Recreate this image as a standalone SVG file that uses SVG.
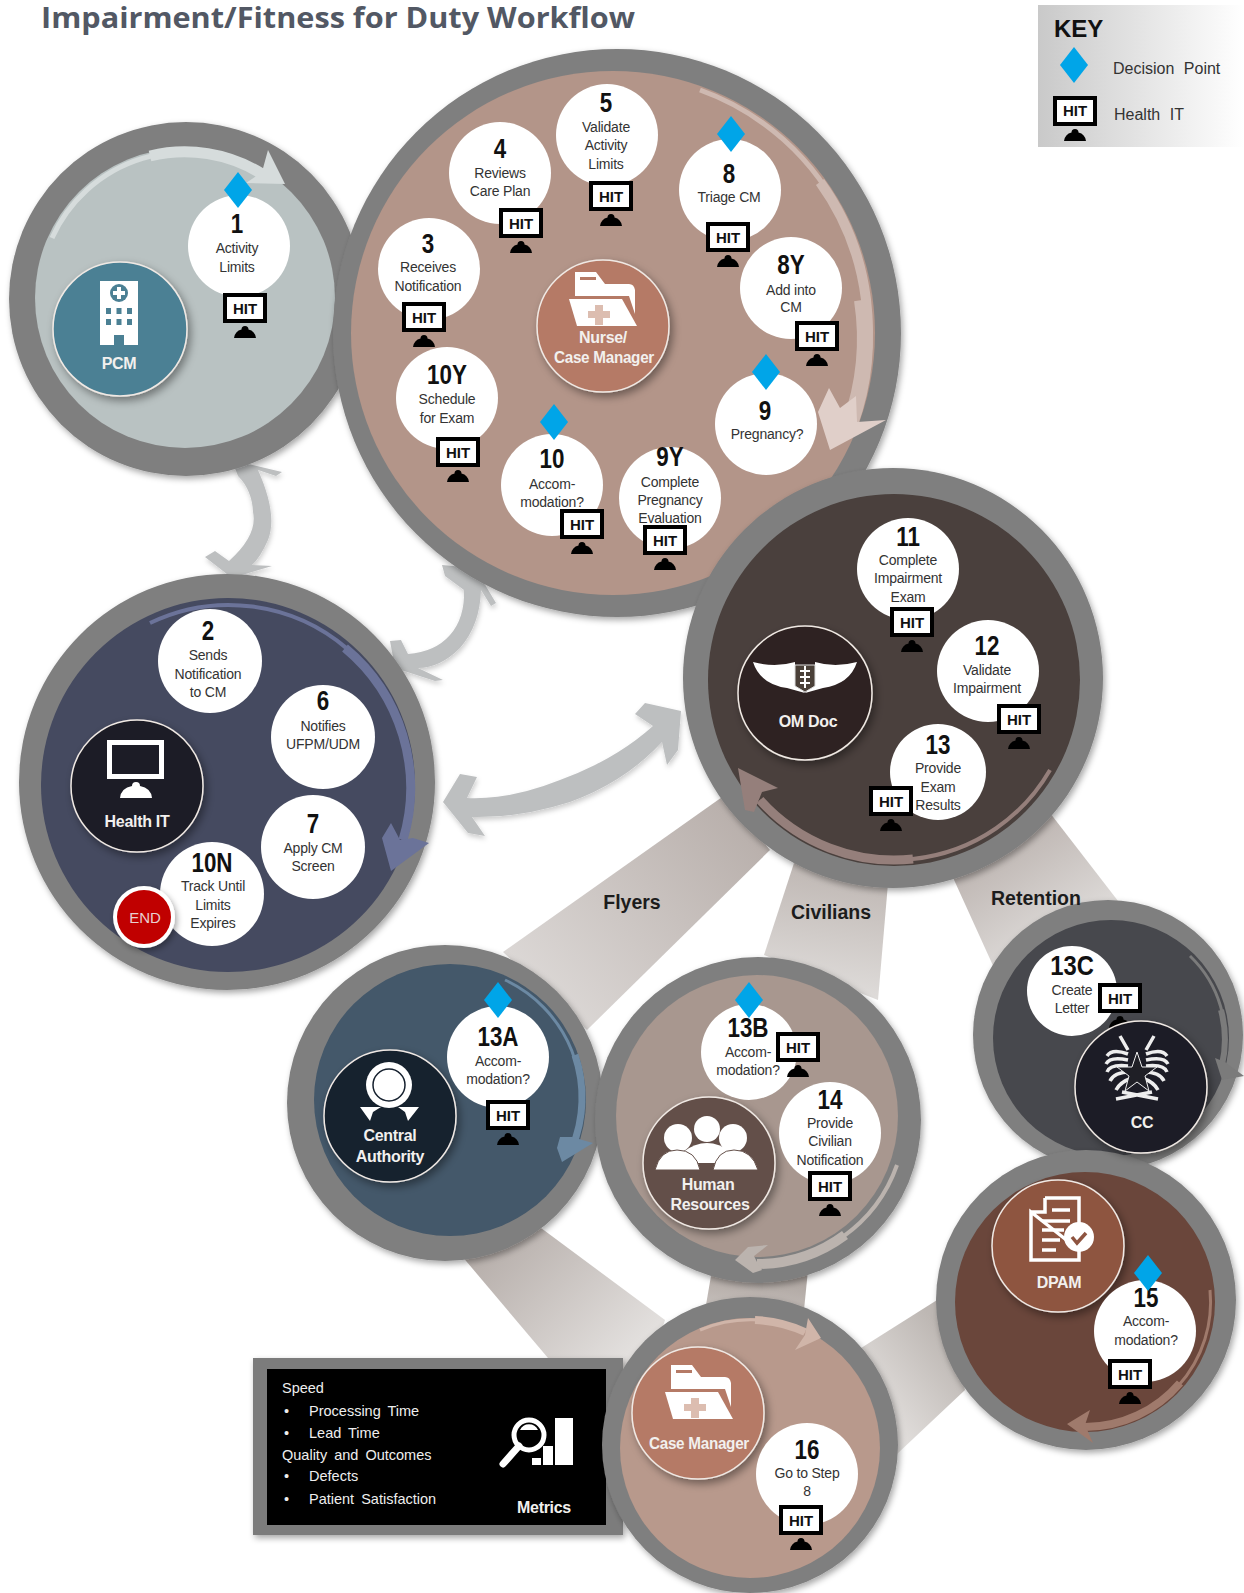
<svg xmlns="http://www.w3.org/2000/svg" width="1244" height="1593" viewBox="0 0 1244 1593">
<style>
text{font-family:"Liberation Sans",Arial,sans-serif;text-anchor:middle}
.title{font-family:"Open Sans","Liberation Sans",sans-serif;font-weight:700;font-size:29px;fill:#525864;text-anchor:start}
.num{font-size:28px;fill:#111;font-weight:700}
.t{font-size:14px;fill:#333;letter-spacing:-.2px}
.hit{font-size:15px;font-weight:700;fill:#111}
.role{font-size:16px;font-weight:700;fill:#f2f0ee;letter-spacing:-.3px}
.band{font-size:19.5px;font-weight:700;fill:#1c1c1c}
.m{font-size:14.5px;fill:#eee;text-anchor:start;word-spacing:3px}
.k{font-size:16px;fill:#333;text-anchor:start;word-spacing:5px}
.ring{fill:#7f7f7f}
.step{fill:#fff}
.rc{stroke:#f0e9e4;stroke-width:1.5;filter:url(#sh)}
.dia{fill:#00a5e8}
.bi{fill:#bdbfc0;filter:url(#soft)}
.fa{fill:none}
</style>
<defs>
<filter id="sh" x="-20%" y="-20%" width="150%" height="150%"><feDropShadow dx="3" dy="4" stdDeviation="4" flood-color="#000" flood-opacity=".4"/></filter>
<filter id="sh2" x="-20%" y="-20%" width="150%" height="150%"><feDropShadow dx="2" dy="3" stdDeviation="3" flood-color="#000" flood-opacity=".35"/></filter>
<filter id="soft" x="-20%" y="-20%" width="150%" height="150%"><feGaussianBlur stdDeviation=".7"/><feDropShadow dx="1" dy="3" stdDeviation="2.500" flood-color="#000" flood-opacity=".2"/></filter>
<linearGradient id="kg" x1="0" x2="1" y1="0" y2="0"><stop offset="0" stop-color="#c9c9c9"/><stop offset="1" stop-color="#fff"/></linearGradient>
<linearGradient id="g1" gradientUnits="userSpaceOnUse" x1="740" y1="820" x2="540" y2="1000"><stop offset="0" stop-color="#b9b0ac"/><stop offset="1" stop-color="#dcd8d6"/></linearGradient>
<linearGradient id="g2" gradientUnits="userSpaceOnUse" x1="840" y1="860" x2="820" y2="990"><stop offset="0" stop-color="#bdb5b1"/><stop offset="1" stop-color="#dedbd9"/></linearGradient>
<linearGradient id="g3" gradientUnits="userSpaceOnUse" x1="990" y1="830" x2="1060" y2="940"><stop offset="0" stop-color="#b9b0ac"/><stop offset="1" stop-color="#dedbd9"/></linearGradient>
<linearGradient id="g4" gradientUnits="userSpaceOnUse" x1="500" y1="1240" x2="620" y2="1360"><stop offset="0" stop-color="#b8b0ac"/><stop offset="1" stop-color="#e2dfdd"/></linearGradient>
<linearGradient id="g5" gradientUnits="userSpaceOnUse" x1="760" y1="1270" x2="750" y2="1340"><stop offset="0" stop-color="#aca39e"/><stop offset="1" stop-color="#d6d1ce"/></linearGradient>
<linearGradient id="g6" gradientUnits="userSpaceOnUse" x1="950" y1="1340" x2="860" y2="1410"><stop offset="0" stop-color="#bdb7b3"/><stop offset="1" stop-color="#e6e3e1"/></linearGradient>
<g id="mon"><rect x="-20" y="-13" width="40" height="26" fill="#fff" stroke="#000" stroke-width="4"/><path d="M-11 30Q-10 23-3.500 21.500A3.500 3.500 0 1 1 3.500 21.500Q10 23 11 30Z" fill="#000"/></g>
<g id="folder"><path d="M6 0H27L36 12H60Q65 12 66 18V42L60 24H6Z" fill="#fff"/><rect x="11" y="5" width="16" height="3" fill="#b57a66"/><path d="M0 27H53L68 54H8Z" fill="#fff"/><path d="M26 33h8v6h7v7h-7v7h-8v-7h-7v-7h7z" fill="#dcbdb0"/></g>
<path id="d" d="M0-18L14 0 0 18-14 0Z"/>
</defs>
<rect width="1244" height="1593" fill="#fff"/>
<text class="title" x="41" y="28" textLength="594" lengthAdjust="spacingAndGlyphs">Impairment/Fitness for Duty Workflow</text>

<g id="key">
<rect x="1038" y="5" width="206" height="142" fill="url(#kg)"/>
<text x="1054" y="37" style="text-anchor:start;font-weight:700;font-size:24px;fill:#111">KEY</text>
<use href="#d" x="1074" y="65" class="dia"/>
<text class="k" x="1113" y="74">Decision Point</text>
<use href="#mon" x="1075" y="111"/>
<text class="hit" x="1075" y="116">HIT</text>
<text class="k" x="1114" y="120">Health IT</text>
</g>

<g id="connectors">
<polygon points="725,795 770,850 587,1030 503,952" fill="url(#g1)"/>
<polygon points="795,860 890,860 878,1000 764,955" fill="url(#g2)"/>
<polygon points="945,860 1040,800 1125,910 995,970" fill="url(#g3)"/>
<polygon points="461,1255 541,1228 665,1320 640,1400 548,1358" fill="url(#g4)"/>
<polygon points="712,1270 808,1270 800,1350 700,1340" fill="url(#g5)"/>
<polygon points="850,1355 945,1295 965,1390 880,1470" fill="url(#g6)"/>
<g id="bidirectional">
<path class="bi" d="M205 557L215 551 229 561Q258 535 253 512Q252 490 238 476L232 460 282 472 276 476 258 470Q278 515 268 540Q260 558 252 565L272 566 232 578Z"/>
<path class="bi" d="M390 641L401 640 408 654Q435 652 450 635Q465 618 464 590L445 576 442 565 475 568 496 603 491 606 481 590Q480 625 460 648Q440 668 418 668L443 680 435 681 395 668Z"/>
<path class="bi" d="M443 802L460 774 477 777 467 798Q510 800 560 780Q615 760 653 726L635 714 645 703 681 711 678 750 667 765 662 742Q625 782 570 802Q520 818 472 817L485 836 468 833Z"/>
</g>
</g>

<g id="lane-pcm"><circle class="ring" cx="186" cy="299" r="177" filter="url(#sh2)"/><circle cx="185" cy="298" r="150" fill="#b9c2c2"/></g>
<g id="lane-healthit"><circle class="ring" cx="227" cy="782" r="208" filter="url(#sh2)"/><circle cx="228" cy="785" r="187" fill="#454a60"/></g>
<g id="lane-nurse"><circle class="ring" cx="617" cy="333" r="284" filter="url(#sh2)"/><circle cx="613" cy="333" r="262" fill="#b39589"/></g>
<g id="lane-omdoc"><circle class="ring" cx="893" cy="678" r="210" filter="url(#sh2)"/><circle cx="894" cy="680" r="186" fill="#4a403d"/></g>
<g id="lane-central"><circle class="ring" cx="445" cy="1103" r="158" filter="url(#sh2)"/><circle cx="450" cy="1100" r="136" fill="#44586a"/></g>
<g id="lane-hr"><circle class="ring" cx="758" cy="1120" r="163" filter="url(#sh2)"/><circle cx="757" cy="1116" r="141" fill="#a8978f"/></g>
<g id="lane-cc"><circle class="ring" cx="1108" cy="1035" r="135" filter="url(#sh2)"/><circle cx="1111" cy="1038" r="118" fill="#47484d"/></g>
<g id="lane-dpam"><circle class="ring" cx="1086" cy="1300" r="150" filter="url(#sh2)"/><circle cx="1085" cy="1302" r="130" fill="#6a463b"/></g>
<g id="metrics">
<rect x="253" y="1358" width="370" height="177" fill="#7b7b7b" filter="url(#sh2)"/>
<rect x="267" y="1369" width="339" height="156" fill="#000"/>
<text class="m" x="282" y="1393">Speed</text>
<text class="m" x="284" y="1416">•</text><text class="m" x="309" y="1416">Processing Time</text>
<text class="m" x="284" y="1438">•</text><text class="m" x="309" y="1438">Lead Time</text>
<text class="m" x="282" y="1460">Quality and Outcomes</text>
<text class="m" x="284" y="1481">•</text><text class="m" x="309" y="1481">Defects</text>
<text class="m" x="284" y="1504">•</text><text class="m" x="309" y="1504">Patient Satisfaction</text>
<circle cx="529" cy="1435" r="15" fill="none" stroke="#fff" stroke-width="5"/><path d="M519 1446L503 1464" stroke="#fff" stroke-width="7" stroke-linecap="round"/>
<path d="M520 1430a10 10 0 0 1 18 0z" fill="#fff"/>
<path d="M532 1458h9v7h-9zM543 1446h10v19h-10zM555 1418h18v47h-18z" fill="#fff"/>
<text class="role" x="544" y="1513">Metrics</text>
</g>
<g id="lane-cm"><circle class="ring" cx="750" cy="1445" r="148" filter="url(#sh2)"/><circle cx="750" cy="1448" r="130" fill="#b8998c"/></g>

<g id="flow-arrows" class="fa">
<g stroke="#d6dcdc" fill="none"><path stroke-width="5" d="M52 238A146 146 0 0 1 262 174"/><path stroke-width="11" d="M150 156A146 146 0 0 1 262 174"/><polygon fill="#d6dcdc" stroke="none" points="268,150 285,184 246,183 262,172"/></g>
<g stroke="#ceb9b1" fill="none"><path stroke-width="5" d="M700 90A254 254 0 0 1 850 424"/><path stroke-width="10" d="M820 182A254 254 0 0 1 850 424"/><path stroke-width="16" d="M862 300A254 254 0 0 1 850 424"/><polygon fill="#e0cfc9" stroke="none" points="829,388 840,408 856,396 857,422 886,420 830,450 818,412"/></g>
<g stroke="#6b7399" fill="none"><path stroke-width="4" d="M150 623A182 182 0 0 1 403 840"/><path stroke-width="9" d="M345 648A182 182 0 0 1 403 840"/><polygon fill="#6b7399" stroke="none" points="391,823 400,840 413,838 429,843 391,871 382,838"/></g>
<g stroke="#957f7b" fill="none"><path stroke-width="4" d="M1050 770A180 180 0 0 1 760 800"/><path stroke-width="9" d="M913 859A180 180 0 0 1 760 800"/><polygon fill="#957f7b" stroke="none" points="738,768 778,788 762,792 754,812 745,810"/></g>
<g stroke="#6c89a3" fill="none"><path stroke-width="3" d="M505 980A132 132 0 0 1 572 1148"/><path stroke-width="7" d="M575 1055A132 132 0 0 1 572 1148"/><polygon fill="#6c89a3" stroke="none" points="560,1137 572,1137 593,1143 562,1162 557,1148"/></g>
<g stroke="#bbb3ae" fill="none"><path stroke-width="4" d="M897 1165A148 148 0 0 1 757 1264"/><path stroke-width="10" d="M845 1235A148 148 0 0 1 757 1264"/><polygon fill="#bbb3ae" stroke="none" points="735,1260 748,1247 768,1245 754,1256 757,1262 762,1270 753,1273"/></g>
<g stroke="#7b7b7b" fill="none"><path stroke-width="3" d="M1190 956A114 114 0 0 1 1222 1065"/><path stroke-width="6" d="M1221 1010A114 114 0 0 1 1222 1065"/><polygon fill="#7b7b7b" stroke="none" points="1215,1058 1225,1062 1244,1076 1222,1080"/></g>
<g stroke="#9f7a6c" fill="none"><path stroke-width="3" d="M1210 1290A125 125 0 0 1 1085 1427"/><path stroke-width="8" d="M1180 1383A125 125 0 0 1 1085 1427"/><polygon fill="#9f7a6c" stroke="none" points="1067,1424 1090,1410 1085,1425 1093,1443"/></g>
<g stroke="#d0b5a9" fill="none"><path stroke-width="3" d="M700 1330A128 128 0 0 1 805 1332"/><path stroke-width="8" d="M755 1320A128 128 0 0 1 805 1332"/><polygon fill="#d0b5a9" stroke="none" points="821,1338 808,1318 805,1335 795,1350"/></g>
</g>

<g id="role-pcm"><circle class="rc" cx="120" cy="329" r="67" fill="#4b8094"/>
<path fill="#fff" d="M100 281h38v64h-38z"/><circle cx="119" cy="293" r="9" fill="#4b8094"/><path fill="#fff" d="M117 287h4v4h4v4h-4v4h-4v-4h-4v-4h4z"/>
<path fill="#4b8094" d="M106 308h5v6h-5zM116.500 308h5v6h-5zM127 308h5v6h-5zM106 319h5v6h-5zM116.500 319h5v6h-5zM127 319h5v6h-5zM114 335h10v10h-10z"/>
<text class="role" x="119" y="369">PCM</text></g>

<g id="role-nurse"><circle class="rc" cx="603" cy="326" r="66" fill="#b57a66"/><use href="#folder" x="569" y="272"/>
<text class="role" x="603" y="343">Nurse/</text><text class="role" x="604" y="363" textLength="100" lengthAdjust="spacingAndGlyphs">Case Manager</text></g>

<g id="role-healthit"><circle class="rc" cx="137" cy="786" r="66" fill="#1e1e25"/>
<rect x="109.500" y="742.500" width="52" height="34" fill="none" stroke="#fff" stroke-width="5"/>
<path fill="#fff" d="M120 798Q121 788 132 786A4 4 0 1 1 140 786Q151 788 152 798Z"/>
<text class="role" x="137" y="827">Health IT</text></g>

<g id="role-omdoc"><circle class="rc" cx="805" cy="693" r="67" fill="#2f2421"/>
<path fill="#fff" d="M753 662Q775 668 795 662L795 682 805 693 787 688Q760 684 753 662ZM857 662Q835 668 815 662L815 682 805 693 823 688Q850 684 857 662Z"/>
<path fill="#4a4038" stroke="#ddd" d="M795 665h20v21l-10 6-10-6z"/><path stroke="#fff" stroke-width="2" fill="none" d="M805 666v22M800 671h10M800 677h10M800 683h10"/>
<text class="role" x="808" y="727">OM Doc</text></g>

<g id="role-central"><circle class="rc" cx="390" cy="1116" r="66" fill="#15202e"/>
<circle cx="389" cy="1085" r="23" fill="#fff"/><circle cx="389" cy="1085" r="16" fill="#fff" stroke="#15202e" stroke-width="1.500"/>
<path fill="#fff" d="M360 1107H381L373 1112 370 1121ZM398 1107H419L408 1121 405 1112Z"/>
<text class="role" x="390" y="1141">Central</text><text class="role" x="390" y="1162">Authority</text></g>

<g id="role-hr"><circle class="rc" cx="709" cy="1163" r="66" fill="#64504a"/>
<circle cx="707" cy="1129" r="13" fill="#fff"/><path fill="#fff" d="M683 1152Q707 1134 731 1152L722 1163H692Z"/>
<circle cx="678" cy="1138" r="14" fill="#fff"/><path fill="#fff" stroke="#64504a" d="M655 1170Q660 1150 677 1150Q696 1150 700 1170Z"/>
<circle cx="733" cy="1138" r="14" fill="#fff"/><path fill="#fff" stroke="#64504a" d="M713 1170Q717 1150 734 1150Q752 1150 758 1170Z"/>
<text class="role" x="708" y="1190">Human</text><text class="role" x="710" y="1210">Resources</text></g>

<g id="step-13C"><circle class="step" cx="1072" cy="991" r="45"/><text class="num" transform="translate(1072 975) scale(.85 1)">13C</text><text class="t" x="1072" y="995">Create</text><text class="t" x="1072" y="1013">Letter</text><use href="#mon" x="1120" y="998"/><text class="hit" x="1120" y="1004">HIT</text></g>

<g id="role-cc"><circle class="rc" cx="1141" cy="1087" r="66" fill="#1f1f26"/>
<g fill="none" stroke="#eee" stroke-width="3.500"><path d="M1128 1054Q1112 1048 1107 1056M1128 1060Q1110 1056 1106 1064M1128 1066Q1110 1064 1107 1072M1130 1072Q1114 1072 1110 1081M1132 1078Q1120 1082 1116 1090M1146 1054Q1162 1048 1167 1056M1146 1060Q1164 1056 1168 1064M1146 1066Q1164 1064 1167 1072M1144 1072Q1160 1072 1164 1081M1142 1078Q1154 1082 1158 1090M1120 1036L1128 1050M1154 1036L1146 1050M1116 1099L1152 1092M1158 1099L1122 1092"/></g>
<polygon fill="#1f1f26" stroke="#eee" points="1137,1052 1142,1067 1157,1067 1145,1076 1149,1091 1137,1082 1125,1091 1129,1076 1117,1067 1132,1067"/>
<text class="role" x="1142" y="1128">CC</text></g>

<g id="role-dpam"><circle class="rc" cx="1058" cy="1246" r="66" fill="#8e5440"/>
<path fill="none" stroke="#fff" stroke-width="3.500" d="M1045 1198H1079V1224M1079 1250V1260H1031V1212ZM1045 1198V1212H1031"/>
<path stroke="#fff" stroke-width="3.500" d="M1052 1210h18M1042 1221h28M1042 1230h22M1042 1240h18M1042 1250h14"/>
<circle cx="1079" cy="1237" r="15" fill="#fff"/><path fill="none" stroke="#8e5440" stroke-width="3.500" d="M1072 1237l5 6 9-10"/>
<text class="role" x="1059" y="1288">DPAM</text></g>

<g id="role-cm"><circle class="rc" cx="698" cy="1413" r="66" fill="#b57a66"/><use href="#folder" x="665" y="1365"/>
<text class="role" x="699" y="1449" textLength="100" lengthAdjust="spacingAndGlyphs">Case Manager</text></g>

<g id="step-1"><circle class="step" cx="239" cy="246" r="51"/><text class="num" transform="translate(237 233) scale(.8 1)">1</text><text class="t" x="237" y="253">Activity</text><text class="t" x="237" y="272">Limits</text><use href="#mon" x="245" y="308"/><text class="hit" x="245" y="314">HIT</text><use href="#d" x="238" y="190" class="dia"/></g>
<g id="step-3"><circle class="step" cx="429" cy="269" r="51"/><text class="num" transform="translate(428 253) scale(.8 1)">3</text><text class="t" x="428" y="272">Receives</text><text class="t" x="428" y="291">Notification</text><use href="#mon" x="424" y="317"/><text class="hit" x="424" y="323">HIT</text></g>
<g id="step-4"><circle class="step" cx="500" cy="173" r="51"/><text class="num" transform="translate(500 158) scale(.8 1)">4</text><text class="t" x="500" y="178">Reviews</text><text class="t" x="500" y="196">Care Plan</text><use href="#mon" x="521" y="223"/><text class="hit" x="521" y="229">HIT</text></g>
<g id="step-5"><circle class="step" cx="607" cy="135" r="51"/><text class="num" transform="translate(606 112) scale(.8 1)">5</text><text class="t" x="606" y="132">Validate</text><text class="t" x="606" y="150">Activity</text><text class="t" x="606" y="169">Limits</text><use href="#mon" x="611" y="196"/><text class="hit" x="611" y="202">HIT</text></g>
<g id="step-8"><circle class="step" cx="730" cy="190" r="51"/><text class="num" transform="translate(729 183) scale(.8 1)">8</text><text class="t" x="729" y="202">Triage CM</text><use href="#mon" x="728" y="237"/><text class="hit" x="728" y="243">HIT</text><use href="#d" x="731" y="134" class="dia"/></g>
<g id="step-8Y"><circle class="step" cx="791" cy="288" r="51"/><text class="num" transform="translate(791 274) scale(.8 1)">8Y</text><text class="t" x="791" y="295">Add into</text><text class="t" x="791" y="312">CM</text><use href="#mon" x="817" y="336"/><text class="hit" x="817" y="342">HIT</text></g>
<g id="step-9"><circle class="step" cx="766" cy="424" r="51"/><text class="num" transform="translate(765 420) scale(.8 1)">9</text><text class="t" x="767" y="439">Pregnancy?</text><use href="#d" x="766" y="372" class="dia"/></g>
<g id="step-9Y"><circle class="step" cx="670" cy="498" r="51"/><text class="num" transform="translate(670 466) scale(.8 1)">9Y</text><text class="t" x="670" y="487">Complete</text><text class="t" x="670" y="505">Pregnancy</text><text class="t" x="670" y="523">Evaluation</text><use href="#mon" x="665" y="540"/><text class="hit" x="665" y="546">HIT</text></g>
<g id="step-10"><circle class="step" cx="552" cy="485" r="51"/><text class="num" transform="translate(552 468) scale(.8 1)">10</text><text class="t" x="552" y="489">Accom-</text><text class="t" x="552" y="507">modation?</text><use href="#mon" x="582" y="524"/><text class="hit" x="582" y="530">HIT</text><use href="#d" x="554" y="422" class="dia"/></g>
<g id="step-10Y"><circle class="step" cx="447" cy="398" r="51"/><text class="num" transform="translate(447 384) scale(.8 1)">10Y</text><text class="t" x="447" y="404">Schedule</text><text class="t" x="447" y="423">for Exam</text><use href="#mon" x="458" y="452"/><text class="hit" x="458" y="458">HIT</text></g>

<g id="step-2"><circle class="step" cx="210" cy="661" r="52"/><text class="num" transform="translate(208 640) scale(.8 1)">2</text><text class="t" x="208" y="660">Sends</text><text class="t" x="208" y="679">Notification</text><text class="t" x="208" y="697">to CM</text></g>
<g id="step-6"><circle class="step" cx="323" cy="737" r="52"/><text class="num" transform="translate(323 710) scale(.8 1)">6</text><text class="t" x="323" y="731">Notifies</text><text class="t" x="323" y="749">UFPM/UDM</text></g>
<g id="step-7"><circle class="step" cx="313" cy="847" r="52"/><text class="num" transform="translate(313 833) scale(.8 1)">7</text><text class="t" x="313" y="853">Apply CM</text><text class="t" x="313" y="871">Screen</text></g>
<g id="step-10N"><circle class="step" cx="212" cy="894" r="52"/><text class="num" transform="translate(212 872) scale(.8 1)">10N</text><text class="t" x="213" y="891">Track Until</text><text class="t" x="213" y="910">Limits</text><text class="t" x="213" y="928">Expires</text></g>
<g id="end"><circle cx="144" cy="917" r="31" fill="#fff" filter="url(#sh2)"/><circle cx="144" cy="917" r="27" fill="#c00000"/><text x="145" y="923" style="font-size:15px;fill:#e8d0d0">END</text></g>

<g id="step-11"><circle class="step" cx="908" cy="569" r="51"/><text class="num" transform="translate(908 546) scale(.8 1)">11</text><text class="t" x="908" y="565">Complete</text><text class="t" x="908" y="583">Impairment</text><text class="t" x="908" y="602">Exam</text><use href="#mon" x="912" y="622"/><text class="hit" x="912" y="628">HIT</text></g>
<g id="step-12"><circle class="step" cx="988" cy="671" r="51"/><text class="num" transform="translate(987 655) scale(.8 1)">12</text><text class="t" x="987" y="675">Validate</text><text class="t" x="987" y="693">Impairment</text><use href="#mon" x="1019" y="719"/><text class="hit" x="1019" y="725">HIT</text></g>
<g id="step-13"><circle class="step" cx="938" cy="772" r="48"/><text class="num" transform="translate(938 754) scale(.8 1)">13</text><text class="t" x="938" y="773">Provide</text><text class="t" x="938" y="792">Exam</text><text class="t" x="938" y="810">Results</text><use href="#mon" x="891" y="801"/><text class="hit" x="891" y="807">HIT</text></g>

<g id="step-13A"><circle class="step" cx="498" cy="1057" r="51"/><text class="num" transform="translate(498 1046) scale(.8 1)">13A</text><text class="t" x="498" y="1066">Accom-</text><text class="t" x="498" y="1084">modation?</text><use href="#mon" x="508" y="1115"/><text class="hit" x="508" y="1121">HIT</text><use href="#d" x="498" y="1000" class="dia"/></g>
<g id="step-13B"><circle class="step" cx="749" cy="1052" r="48"/><text class="num" transform="translate(748 1037) scale(.8 1)">13B</text><text class="t" x="748" y="1057">Accom-</text><text class="t" x="748" y="1075">modation?</text><use href="#mon" x="798" y="1047"/><text class="hit" x="798" y="1053">HIT</text><use href="#d" x="749" y="1000" class="dia"/></g>
<g id="step-14"><circle class="step" cx="830" cy="1133" r="51"/><text class="num" transform="translate(830 1109) scale(.8 1)">14</text><text class="t" x="830" y="1128">Provide</text><text class="t" x="830" y="1146">Civilian</text><text class="t" x="830" y="1165">Notification</text><use href="#mon" x="830" y="1186"/><text class="hit" x="830" y="1192">HIT</text></g>

<g id="step-15"><circle class="step" cx="1145" cy="1331" r="51"/><text class="num" transform="translate(1146 1307) scale(.8 1)">15</text><text class="t" x="1146" y="1326">Accom-</text><text class="t" x="1146" y="1345">modation?</text><use href="#mon" x="1130" y="1374"/><text class="hit" x="1130" y="1380">HIT</text><use href="#d" x="1148" y="1273" class="dia"/></g>
<g id="step-16"><circle class="step" cx="807" cy="1474" r="51"/><text class="num" transform="translate(807 1459) scale(.8 1)">16</text><text class="t" x="807" y="1478">Go to Step</text><text class="t" x="807" y="1496">8</text><use href="#mon" x="801" y="1520"/><text class="hit" x="801" y="1526">HIT</text></g>

<g id="labels">
<text class="band" x="632" y="909">Flyers</text>
<text class="band" x="831" y="919">Civilians</text>
<text class="band" x="1036" y="905">Retention</text>
</g>
</svg>
